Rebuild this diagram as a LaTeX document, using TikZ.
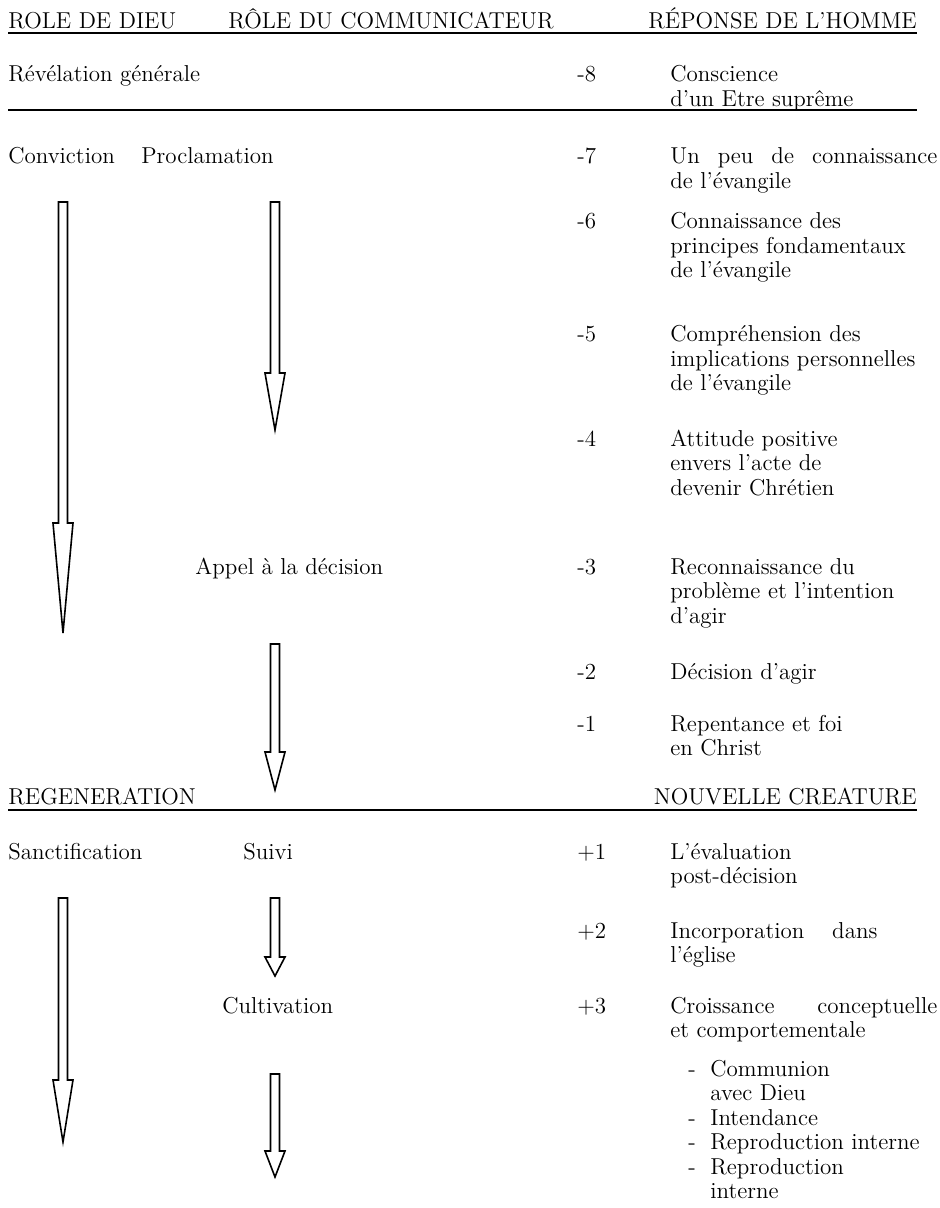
\documentclass[tikz,border=0pt]{standalone}
\usepackage{tikz}

\newcommand{\txt}{\fontsize{11.5}{12.25}\selectfont}
\newlength{\colw}
\setlength{\colw}{133.5pt}
\newcommand{\respbox}[1]{\parbox[t]{\colw}{\raggedright #1}}
% hollow block arrow pointing down: x, top, neck, tip
\newcommand{\blockdown}[4]{%
	\draw [blockarrow] ({#1-4.5},#2) -- ({#1+4.5},#2) -- ({#1+4.5},#3) -- ({#1+10},#3) -- (#1,#4) -- ({#1-10},#3) -- ({#1-4.5},#3) -- cycle;}

\tikzset{
	lbl/.style={anchor=base west, inner sep=0pt, font=\txt},
	rule/.style={line width=1.2pt},
	blockarrow/.style={line width=0.8pt, line join=miter, fill=white}
}

\begin{document}
\begin{tikzpicture}[x=0.5pt, y=-0.5pt]
	\useasboundingbox (0,0) rectangle (940,1208);

	% headings
	\node [lbl] (god) at (8,29) {ROLE DE DIEU};
	\node [lbl] (comm) at (228,29) {RÔLE DU COMMUNICATEUR};
	\node [lbl] (man) at (648,29) {RÉPONSE DE L’HOMME};
	\coordinate (top1) at (8,33);
	\coordinate (top2) at (917,33);
	\draw [rule] (top1) -- (top2);

	\node [lbl] (revel) at (8,82) {Révélation générale};
	\node [lbl] (m8) at (577,82) {-8};
	\node [lbl] (t8) at (670,82) {\respbox{Conscience\\d’un Etre suprême}};
	\coordinate (mid1) at (8,110);
	\coordinate (mid2) at (917,110);
	\draw [rule] (mid1) -- (mid2);

	\node [lbl] (convic) at (8,164) {Conviction};
	\node [lbl] (procl) at (141,164) {Proclamation};
	\node [lbl] (m7) at (577,164) {-7};
	\node [lbl] (t7) at (670,164) {\respbox{\makebox[\colw][s]{Un peu de connaissance}\\de l’évangile}};
	\node [lbl] (m6) at (577,229) {-6};
	\node [lbl] (t6) at (670,229) {\respbox{Connaissance des\\principes fondamentaux\\de l’évangile}};
	\node [lbl] (m5) at (577,342) {-5};
	\node [lbl] (t5) at (670,342) {\respbox{Compréhension des\\implications personnelles\\de l’évangile}};
	\node [lbl] (m4) at (577,446) {-4};
	\node [lbl] (t4) at (670,446) {\respbox{Attitude positive\\envers l’acte de\\devenir Chrétien}};
	\node [lbl] (appel) at (195,574) {Appel à la décision};
	\node [lbl] (m3) at (577,574) {-3};
	\node [lbl] (t3) at (670,574) {\respbox{Reconnaissance du\\problème et l’intention\\d’agir}};
	\node [lbl] (m2) at (577,679) {-2};
	\node [lbl] (t2) at (670,679) {Décision d’agir};
	\node [lbl] (m1) at (577,731) {-1};
	\node [lbl] (t1) at (670,731) {\respbox{Repentance et foi\\en Christ}};

	\blockdown{63}{202}{523}{633}
	\blockdown{275}{202}{373}{430}
	\blockdown{275}{644}{752}{790}

	% new life
	\node [lbl] (regen) at (8,804) {REGENERATION};
	\node [lbl, anchor=base east] (newcr) at (917,804) {NOUVELLE CREATURE};
	\coordinate (low1) at (8,810);
	\coordinate (low2) at (917,810);
	\draw [rule] (low1) -- (low2);

	\node [lbl] (sanct) at (8,859) {Sanctification};
	\node [lbl] (suivi) at (243,859) {Suivi};
	\node [lbl] (p1) at (577,859) {+1};
	\node [lbl] (s1) at (670,859) {\respbox{L’évaluation\\post-décision}};
	\node [lbl] (p2) at (577,938) {+2};
	\node [lbl] (s2) at (670,938) {\respbox{\makebox[103.5pt][s]{Incorporation dans}\\l’église}};
	\node [lbl] (cultiv) at (222,1013) {Cultivation};
	\node [lbl] (p3) at (577,1013) {+3};
	\node [lbl] (s3) at (670,1013) {\respbox{\makebox[\colw][s]{Croissance conceptuelle}\\et comportementale\\[7pt]
		\hspace*{9pt}\makebox[11pt][l]{-}Communion\\
		\hspace*{20pt}avec Dieu\\
		\hspace*{9pt}\makebox[11pt][l]{-}Intendance\\
		\hspace*{9pt}\makebox[11pt][l]{-}Reproduction interne\\
		\hspace*{9pt}\makebox[11pt][l]{-}Reproduction\\
		\hspace*{20pt}interne}};

	\blockdown{63}{898}{1080}{1142}
	\blockdown{275}{898}{957}{976}
	\blockdown{275}{1074}{1151}{1177}
\end{tikzpicture}
\end{document}
